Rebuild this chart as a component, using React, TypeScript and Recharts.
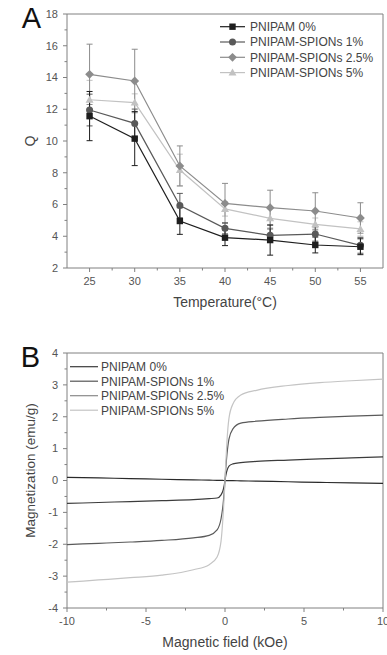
import { ErrorBar, Legend, Line, LineChart, ReferenceArea, XAxis, YAxis, Label } from "recharts";

const FONT = '"Liberation Sans", Arial, Helvetica, sans-serif';
const TICK_TEXT = "#555";
const TITLE_TEXT = "#444";
const FRAME = "#808080";

// Panel A: swelling ratio Q against temperature
const TEMPS = [25, 30, 35, 40, 45, 50, 55];
const Q_0 = [11.57, 10.15, 4.96, 3.91, 3.76, 3.45, 3.34];
const Q_0_ERR = [1.55, 1.7, 0.84, 0.5, 0.95, 0.5, 0.5];
const Q_1 = [11.95, 11.11, 5.93, 4.5, 4.06, 4.14, 3.43];
const Q_1_ERR = [1.0, 0.9, 0.77, 0.35, 0.4, 0.45, 0.5];
const Q_25 = [14.2, 13.78, 8.43, 6.07, 5.8, 5.59, 5.15];
const Q_25_ERR = [1.9, 2.0, 1.26, 1.26, 1.1, 1.15, 0.96];
const Q_5 = [12.6, 12.42, 8.17, 5.72, 5.13, 4.75, 4.46];
const Q_5_ERR = [1.22, 0.55, 1.0, 0.45, 0.6, 0.4, 0.45];

const TEMP_TICKS = [25, 27.5, 30, 32.5, 35, 37.5, 40, 42.5, 45, 47.5, 50, 52.5, 55];
const Q_TICKS = [2, 3, 4, 5, 6, 7, 8, 9, 10, 11, 12, 13, 14, 15, 16, 17, 18];

// Panel B: magnetization loops
const FIELD = [-10, -8, -6, -4, -2, -1, -0.5, -0.25, -0.12, -0.05, 0, 0.05, 0.12, 0.25, 0.5, 1, 2, 4, 6, 8, 10];
const M_0 = [0.1, 0.08, 0.06, 0.04, 0.02, 0.01, 0.005, 0.003, 0.001, 0, 0, -0.001, -0.002, -0.003, -0.005, -0.01, -0.02, -0.04, -0.06, -0.075, -0.09];
const M_1 = [-0.72, -0.69, -0.66, -0.63, -0.6, -0.57, -0.55, -0.45, -0.3, -0.15, 0, 0.15, 0.3, 0.45, 0.52, 0.56, 0.6, 0.64, 0.68, 0.71, 0.74];
const M_25 = [-2.01, -1.97, -1.93, -1.88, -1.8, -1.72, -1.55, -1.2, -0.75, -0.35, 0, 0.38, 0.8, 1.3, 1.62, 1.8, 1.86, 1.93, 1.98, 2.02, 2.05];
const M_5 = [-3.19, -3.12, -3.05, -2.97, -2.8, -2.64, -2.4, -1.9, -1.1, -0.5, 0, 0.55, 1.2, 1.95, 2.4, 2.68, 2.83, 2.98, 3.07, 3.13, 3.18];

const FIELD_TICKS = [-10, -7.5, -5, -2.5, 0, 2.5, 5, 7.5, 10];
const M_TICKS = [-4, -3.5, -3, -2.5, -2, -1.5, -1, -0.5, 0, 0.5, 1, 1.5, 2, 2.5, 3, 3.5, 4];

type Shape = "square" | "circle" | "diamond" | "triangle";

const SERIES_A: { key: string; name: string; color: string; shape: Shape }[] = [
  { key: "p5", name: "PNIPAM-SPIONs 5%", color: "#c2c2c2", shape: "triangle" },
  { key: "p25", name: "PNIPAM-SPIONs 2.5%", color: "#8c8c8c", shape: "diamond" },
  { key: "p1", name: "PNIPAM-SPIONs 1%", color: "#595959", shape: "circle" },
  { key: "p0", name: "PNIPAM 0%", color: "#1e1e1e", shape: "square" },
];

const SERIES_B = [
  { key: "m0", name: "PNIPAM 0%", color: "#2a2a2a", legend: "#3a3a3a" },
  { key: "m1", name: "PNIPAM-SPIONs 1%", color: "#3c3c3c", legend: "#555" },
  { key: "m25", name: "PNIPAM-SPIONs 2.5%", color: "#5a5a5a", legend: "#8a8a8a" },
  { key: "m5", name: "PNIPAM-SPIONs 5%", color: "#c4c4c4", legend: "#c4c4c4" },
];

const tempData = TEMPS.map((t, i) => ({
  t,
  p0: Q_0[i],
  p0e: Q_0_ERR[i],
  p1: Q_1[i],
  p1e: Q_1_ERR[i],
  p25: Q_25[i],
  p25e: Q_25_ERR[i],
  p5: Q_5[i],
  p5e: Q_5_ERR[i],
}));

const fieldData = FIELD.map((h, i) => ({ h, m0: M_0[i], m1: M_1[i], m25: M_25[i], m5: M_5[i] }));

function Marker({ cx, cy, shape, color }: { cx?: number; cy?: number; shape: Shape; color: string }) {
  if (cx == null || cy == null) return null;
  if (shape === "square") return <rect x={cx - 3.2} y={cy - 3.2} width={6.4} height={6.4} fill={color} />;
  if (shape === "circle") return <circle cx={cx} cy={cy} r={3.5} fill={color} />;
  if (shape === "diamond")
    return <polygon points={`${cx},${cy - 4.4} ${cx + 4.4},${cy} ${cx},${cy + 4.4} ${cx - 4.4},${cy}`} fill={color} />;
  return <polygon points={`${cx},${cy - 4} ${cx + 4},${cy + 3} ${cx - 4},${cy + 3}`} fill={color} />;
}

// axis ticks with short minor marks; only majors get a label
function makeXTick(isMajor: (v: number) => boolean) {
  return (p: any) => {
    const { x, y, payload } = p;
    const major = isMajor(payload.value);
    return (
      <g>
        <line x1={x} x2={x} y1={y} y2={y + (major ? 4 : 2.5)} stroke={FRAME} />
        {major && (
          <text x={x} y={y + 9.5} dy="0.71em" textAnchor="middle" fontSize={11} fill={TICK_TEXT} fontFamily={FONT}>
            {payload.value}
          </text>
        )}
      </g>
    );
  };
}

function makeYTick(isMajor: (v: number) => boolean) {
  return (p: any) => {
    const { x, y, payload } = p;
    const major = isMajor(payload.value);
    return (
      <g>
        <line x1={x - (major ? 4 : 2.5)} x2={x} y1={y} y2={y} stroke={FRAME} />
        {major && (
          <text x={x - 9} y={y} dy="0.35em" textAnchor="end" fontSize={11} fill={TICK_TEXT} fontFamily={FONT}>
            {payload.value}
          </text>
        )}
      </g>
    );
  };
}

function XTitle({ viewBox, text }: any) {
  const cx = viewBox.x + viewBox.width / 2;
  return (
    <text x={cx} y={viewBox.y + 39} textAnchor="middle" fontSize={14} fill={TITLE_TEXT} fontFamily={FONT}>
      {text}
    </text>
  );
}

function YTitle({ viewBox, text, x, shift = 0, size = 14 }: any) {
  const cy = viewBox.y + viewBox.height / 2 + shift;
  return (
    <text
      x={x}
      y={cy}
      dy="0.35em"
      transform={`rotate(-90 ${x} ${cy})`}
      textAnchor="middle"
      fontSize={size}
      fill={TITLE_TEXT}
      fontFamily={FONT}
    >
      {text}
    </text>
  );
}

function LegendA() {
  const rows = [...SERIES_A].reverse();
  return (
    <svg width={170} height={66} style={{ display: "block" }}>
      {rows.map((s, i) => {
        const cy = 8.7 + i * 15.3;
        return (
          <g key={s.key}>
            <line x1={4} x2={29} y1={cy} y2={cy} stroke={s.color} strokeWidth={1.2} />
            <Marker cx={16.5} cy={cy} shape={s.shape} color={s.color} />
            <text x={34} y={cy + 4.3} fontSize={12} fill={TITLE_TEXT} fontFamily={FONT}>
              {s.name}
            </text>
          </g>
        );
      })}
    </svg>
  );
}

function LegendB() {
  return (
    <svg width={170} height={64} style={{ display: "block" }}>
      {SERIES_B.map((s, i) => {
        const cy = 8.7 + i * 14.5;
        return (
          <g key={s.key}>
            <line x1={4} x2={32} y1={cy} y2={cy} stroke={s.legend} strokeWidth={1.2} />
            <text x={35} y={cy + 4.3} fontSize={12} fill={TITLE_TEXT} fontFamily={FONT}>
              {s.name}
            </text>
          </g>
        );
      })}
    </svg>
  );
}

function PanelLetter({ letter, x, y }: { letter: string; x: number; y: number }) {
  return (
    <svg width={60} height={40} style={{ position: "absolute", left: 0, top: 0, pointerEvents: "none" }}>
      <text x={x} y={y} fontSize={29} fill="#111" fontFamily={FONT}>
        {letter}
      </text>
    </svg>
  );
}

function SwellingChart() {
  return (
    <div style={{ position: "absolute", left: 0, top: 0, width: 387, height: 330 }}>
      <LineChart width={387} height={330} data={tempData} margin={{ top: 14, right: 4, bottom: 32, left: 0 }}>
        <XAxis
          dataKey="t"
          type="number"
          domain={[22.5, 57.5]}
          ticks={TEMP_TICKS}
          interval={0}
          axisLine={false}
          tickLine={false}
          tickSize={0}
          tickMargin={0}
          height={30}
          tick={makeXTick((v) => v % 5 === 0)}
        >
          <Label content={(p: any) => <XTitle {...p} text="Temperature(°C)" />} />
        </XAxis>
        <YAxis
          type="number"
          domain={[2, 18]}
          ticks={Q_TICKS}
          interval={0}
          axisLine={false}
          tickLine={false}
          tickSize={0}
          tickMargin={0}
          width={67}
          tick={makeYTick((v) => v % 2 === 0)}
        >
          <Label content={(p: any) => <YTitle {...p} x={30} text="Q" />} />
        </YAxis>
        <ReferenceArea x1={22.5} x2={57.5} y1={2} y2={18} fill="none" stroke={FRAME} strokeWidth={1} ifOverflow="visible" />
        {SERIES_A.map((s) => (
          <Line
            key={s.key}
            dataKey={s.key}
            name={s.name}
            type="linear"
            stroke={s.color}
            strokeWidth={1.2}
            isAnimationActive={false}
            dot={(p: any) => <Marker key={`${s.key}-${p.index}`} cx={p.cx} cy={p.cy} shape={s.shape} color={s.color} />}
            activeDot={false}
          >
            <ErrorBar dataKey={`${s.key}e`} width={3} stroke={s.color} strokeWidth={1} direction="y" isAnimationActive={false} />
          </Line>
        ))}
        <Legend
          layout="horizontal"
          verticalAlign="middle"
          align="center"
          wrapperStyle={{ left: 216, top: 18, width: 170, height: 66 }}
          content={() => <LegendA />}
        />
      </LineChart>
      <PanelLetter letter="A" x={21.7} y={27.7} />
    </div>
  );
}

function MagnetizationChart() {
  return (
    <div style={{ position: "absolute", left: 0, top: 330, width: 387, height: 325 }}>
      <LineChart width={387} height={325} data={fieldData} margin={{ top: 23, right: 4, bottom: 17, left: 0 }}>
        <XAxis
          dataKey="h"
          type="number"
          domain={[-10, 10]}
          ticks={FIELD_TICKS}
          interval={0}
          axisLine={false}
          tickLine={false}
          tickSize={0}
          tickMargin={0}
          height={30}
          tick={makeXTick((v) => v % 5 === 0)}
        >
          <Label content={(p: any) => <XTitle {...p} text="Magnetic field (kOe)" />} />
        </XAxis>
        <YAxis
          type="number"
          domain={[-4, 4]}
          ticks={M_TICKS}
          interval={0}
          axisLine={false}
          tickLine={false}
          tickSize={0}
          tickMargin={0}
          width={67}
          tick={makeYTick((v) => Number.isInteger(v))}
        >
          <Label content={(p: any) => <YTitle {...p} x={30} shift={-10} size={13.5} text="Magnetization (emu/g)" />} />
        </YAxis>
        <ReferenceArea x1={-10} x2={10} y1={-4} y2={4} fill="none" stroke={FRAME} strokeWidth={1} ifOverflow="visible" />
        {SERIES_B.map((s) => (
          <Line
            key={s.key}
            dataKey={s.key}
            name={s.name}
            type="monotone"
            stroke={s.color}
            strokeWidth={1.2}
            dot={false}
            activeDot={false}
            isAnimationActive={false}
          />
        ))}
        <Legend
          layout="horizontal"
          verticalAlign="middle"
          align="center"
          wrapperStyle={{ left: 66, top: 28, width: 170, height: 64 }}
          content={() => <LegendB />}
        />
      </LineChart>
      <PanelLetter letter="B" x={20.7} y={37.3} />
    </div>
  );
}

export default function App() {
  return (
    <div style={{ position: "absolute", left: 0, top: 0, width: 387, height: 655, background: "#fff", fontFamily: FONT }}>
      <SwellingChart />
      <MagnetizationChart />
    </div>
  );
}
